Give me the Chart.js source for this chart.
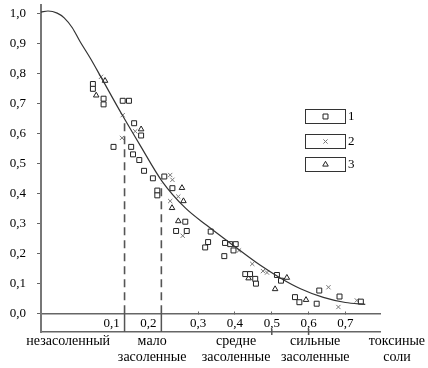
<!DOCTYPE html>
<html>
<head>
<meta charset="utf-8">
<script src="https://cdn.jsdelivr.net/npm/chart.js@4.4.1/dist/chart.umd.min.js"></script>
<style>
  html, body { margin: 0; padding: 0; background: #fff; }
</style>
</head>
<body>
<canvas id="saltChart" width="428" height="368"></canvas>
<script>
// кривая (огибающая)
const curveX = [-0.127, -0.108, -0.083, -0.064, -0.042, -0.021, 0.007, 0.036, 0.093, 0.142, 0.202, 0.265, 0.324, 0.395, 0.468, 0.523, 0.578, 0.640, 0.700, 0.754];
const curveY = [1.006, 1.010, 1.003, 0.987, 0.954, 0.908, 0.852, 0.789, 0.664, 0.562, 0.441, 0.352, 0.293, 0.227, 0.161, 0.118, 0.082, 0.053, 0.036, 0.030];

// серия 1 (квадраты)
const s1X = [0.014, 0.014, 0.043, 0.043, 0.095, 0.112, 0.126, 0.145, 0.070, 0.118, 0.123, 0.140, 0.153, 0.177, 0.208, 0.189, 0.189, 0.230, 0.265, 0.240, 0.269, 0.334, 0.327, 0.319, 0.373, 0.387, 0.402, 0.396, 0.371, 0.428, 0.441, 0.455, 0.457, 0.514, 0.525, 0.563, 0.575, 0.622, 0.629, 0.684, 0.742];
const s1Y = [0.766, 0.750, 0.717, 0.698, 0.710, 0.710, 0.635, 0.594, 0.556, 0.556, 0.531, 0.512, 0.476, 0.451, 0.457, 0.410, 0.394, 0.418, 0.306, 0.275, 0.275, 0.273, 0.238, 0.220, 0.235, 0.231, 0.231, 0.210, 0.191, 0.131, 0.131, 0.115, 0.099, 0.128, 0.109, 0.054, 0.037, 0.032, 0.076, 0.056, 0.039];

// серия 2 (крестики)
const s2X = [0.036, 0.095, 0.093, 0.129, 0.224, 0.230, 0.246, 0.224, 0.258, 0.411, 0.447, 0.476, 0.487, 0.654, 0.681, 0.731];
const s2Y = [0.790, 0.662, 0.586, 0.608, 0.462, 0.446, 0.390, 0.375, 0.259, 0.210, 0.165, 0.141, 0.136, 0.087, 0.021, 0.043];

// серия 3 (треугольники)
const s3X = [0.047, 0.023, 0.145, 0.256, 0.260, 0.229, 0.246, 0.437, 0.541, 0.509, 0.593];
const s3Y = [0.777, 0.728, 0.615, 0.419, 0.375, 0.352, 0.308, 0.117, 0.119, 0.081, 0.045];

const seriesNames = ['1', '2', '3'];
const yTicks = [0, 0.1, 0.2, 0.3, 0.4, 0.5, 0.6, 0.7, 0.8, 0.9, 1.0];
const xTicks = [0.1, 0.2, 0.3, 0.4, 0.5, 0.6, 0.7];
const zoneBounds = [0.1, 0.2];
const zoneMarks = [0.5, 0.6];
const dropX = [0.1, 0.2];
const dropTop = [0.645, 0.435];
const zoneNames = [['незасоленный'], ['мало', 'засоленные'], ['средне', 'засоленные'], ['сильные', 'засоленные'], ['токсиные', 'соли']];
const zoneAt = [-0.053, 0.175, 0.403, 0.618, 0.84];

const xMin = -0.127, xMax = 0.794;
const yMin = -0.0625, yMax = 1.03;

const SERIF = '"Liberation Serif", "Times New Roman", serif';
const FONT = { family: SERIF, size: 13 };
const fmt = v => v.toFixed(1).replace('.', ',');
const pts = (xs, ys) => xs.map((v, i) => ({ x: v, y: ys[i] }));

const markerStyles = [
  { pointStyle: 'rect', radius: 3.5, borderColor: '#222', backgroundColor: '#fff', borderWidth: 1 },
  { pointStyle: 'crossRot', radius: 3, borderColor: '#777', backgroundColor: '#fff', borderWidth: 1 },
  { pointStyle: 'triangle', radius: 3.2, borderColor: '#222', backgroundColor: '#fff', borderWidth: 1 }
];

// подписи зон, границы и легенда
const saltDecor = {
  id: 'saltDecor',
  afterDraw(chart) {
    const { ctx, chartArea, scales: { x, y } } = chart;
    const y0 = y.getPixelForValue(0);
    const yb = chartArea.bottom;
    ctx.save();
    ctx.strokeStyle = '#555';
    ctx.lineWidth = 1.5;
    zoneBounds.forEach(v => {
      const px = x.getPixelForValue(v);
      ctx.beginPath(); ctx.moveTo(px, y0); ctx.lineTo(px, yb); ctx.stroke();
    });
    zoneMarks.forEach(v => {
      const px = x.getPixelForValue(v);
      ctx.beginPath(); ctx.moveTo(px, yb - 3); ctx.lineTo(px, yb + 3); ctx.stroke();
    });

    ctx.fillStyle = '#000';
    ctx.font = '14px ' + SERIF;
    ctx.textAlign = 'center';
    ctx.textBaseline = 'middle';
    zoneNames.forEach((lines, i) => {
      const px = x.getPixelForValue(zoneAt[i]);
      lines.forEach((t, j) => ctx.fillText(t, px, yb + 9 + j * 16));
    });

    // легенда в рамках
    ctx.font = FONT.size + 'px ' + SERIF;
    const bx = 305, bw = 40, bh = 14;
    const tops = [109, 134, 157];
    markerStyles.forEach((m, i) => {
      ctx.lineWidth = 1;
      ctx.strokeStyle = '#333';
      ctx.fillStyle = '#fff';
      ctx.fillRect(bx, tops[i], bw, bh);
      ctx.strokeRect(bx + 0.5, tops[i] + 0.5, bw, bh);
      ctx.strokeStyle = m.borderColor;
      ctx.fillStyle = m.backgroundColor;
      Chart.helpers.drawPoint(ctx, { pointStyle: m.pointStyle, radius: m.radius, rotation: 0, borderWidth: m.borderWidth }, bx + bw / 2 + 0.5, tops[i] + bh / 2 + 0.5);
      ctx.fillStyle = '#000';
      ctx.textAlign = 'left';
      ctx.fillText(seriesNames[i], bx + bw + 3, tops[i] + bh / 2 + 1);
    });
    ctx.restore();
  }
};

function createSaltChart() {
  const ctx = document.getElementById('saltChart');
  const scatterSets = [[s1X, s1Y], [s2X, s2Y], [s3X, s3Y]].map((s, i) => ({
    label: seriesNames[i],
    data: pts(s[0], s[1]),
    showLine: false,
    pointStyle: markerStyles[i].pointStyle,
    pointRadius: markerStyles[i].radius,
    borderColor: markerStyles[i].borderColor,
    backgroundColor: markerStyles[i].backgroundColor,
    borderWidth: markerStyles[i].borderWidth
  }));
  const dropSets = dropX.map((v, i) => ({
    label: 'граница ' + fmt(v),
    data: [{ x: v, y: 0 }, { x: v, y: dropTop[i] }],
    showLine: true,
    borderColor: '#555',
    borderWidth: 1.6,
    borderDash: [8, 5],
    pointRadius: 0
  }));

  new Chart(ctx, {
    type: 'scatter',
    data: {
      datasets: [
        {
          label: 'кривая',
          data: pts(curveX, curveY),
          showLine: true,
          borderColor: '#333',
          borderWidth: 1.2,
          pointRadius: 0,
          cubicInterpolationMode: 'monotone'
        },
        ...dropSets,
        ...scatterSets
      ]
    },
    options: {
      responsive: false,
      animation: false,
      events: [],
      layout: { padding: { left: 0, right: 48, top: 0, bottom: 0 } },
      plugins: { legend: { display: false }, tooltip: { enabled: false } },
      scales: {
        x: {
          type: 'linear',
          min: xMin,
          max: xMax,
          position: { y: 0 },
          afterBuildTicks: s => { s.ticks = xTicks.map(v => ({ value: v })); },
          afterFit: s => { s.paddingLeft = 0; s.paddingRight = 0; },
          border: { color: '#666', width: 1.5 },
          grid: { drawOnChartArea: false, tickLength: -3, tickColor: '#666' },
          ticks: {
            font: FONT, color: '#000', padding: 5, maxRotation: 0, autoSkip: false,
            callback: v => fmt(v) + (zoneBounds.includes(v) ? '\u2003\u2003' : '')
          }
        },
        xb: {
          type: 'linear',
          min: xMin,
          max: xMax,
          position: 'bottom',
          afterFit: s => { s.height = 36; },
          ticks: { display: false },
          grid: { drawOnChartArea: false, drawTicks: false },
          border: { color: '#666', width: 1.5 }
        },
        y: {
          min: yMin,
          max: yMax,
          afterBuildTicks: s => { s.ticks = yTicks.map(v => ({ value: v })); },
          afterFit: s => { s.width = 41; s.paddingTop = 0; s.paddingBottom = 0; },
          border: { color: '#777', width: 2 },
          grid: { drawOnChartArea: false, tickLength: 4, tickColor: '#666' },
          ticks: { font: FONT, color: '#000', padding: 11, callback: v => fmt(v) }
        }
      }
    },
    plugins: [saltDecor]
  });
}

createSaltChart();
</script>
</body>
</html>
